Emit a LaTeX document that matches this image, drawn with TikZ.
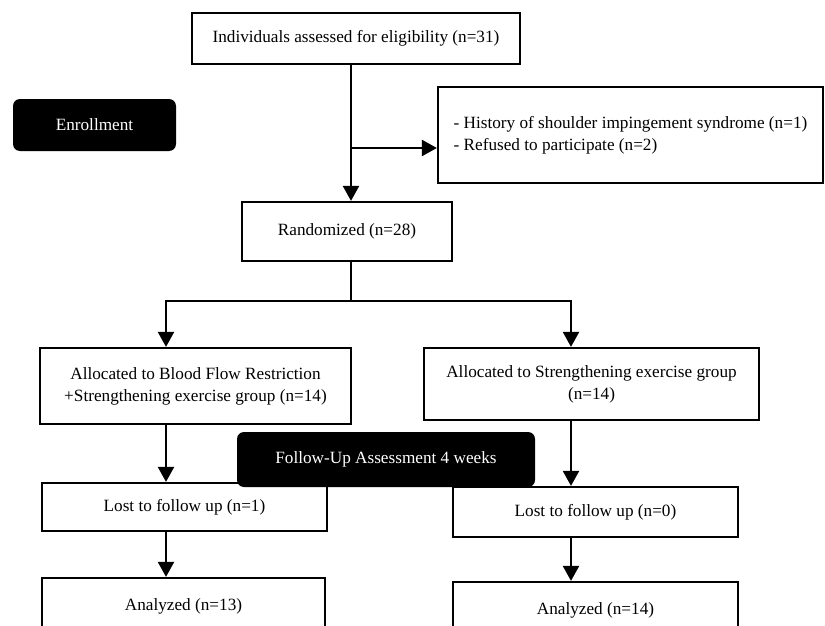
\documentclass[tikz,border=0pt]{standalone}
\usepackage{fontspec}
\setmainfont{Liberation Serif}
\usetikzlibrary{arrows.meta}

\begin{document}
\begin{tikzpicture}[x=1pt,y=-1pt]
\tikzstyle{every node}+=[font=\fontsize{17.2}{22}\selectfont]
\tikzstyle{box}=[draw, line width=2.2pt, fill=white, align=center, inner sep=0pt]
\tikzstyle{phase}=[fill=black, text=white, rounded corners=7pt, inner sep=0pt]
\tikzstyle{arr}=[line width=2.2pt, -{Triangle[width=16pt,length=15pt]}]
\useasboundingbox (0,0) rectangle (825,626);
\clip (0,0) rectangle (825,626);
% enrollment
\node [box, minimum width=328, minimum height=51] (elig) at (356,38.5) {Individuals assessed for eligibility (n=31)};
\node [phase, minimum width=163, minimum height=52] (enrol) at (94.5,125) {Enrollment};
\node [box, align=left, minimum width=385, minimum height=96] (excl) at (630.5,135)
  {- History of shoulder impingement syndrome (n=1)\\- Refused to participate (n=2)};
\node [box, minimum width=210, minimum height=59] (rand) at (347,231.5) {Randomized (n=28)};
\coordinate (split) at (351,148);
\draw [arr] (elig.south -| split) -- (rand.north -| split);
\draw [arr] (split) -- (split -| excl.west);
% allocation
\node [box, minimum width=311, minimum height=76] (bfr) at (195.5,386) {Allocated to Blood Flow Restriction\\+Strengthening exercise group (n=14)};
\node [box, minimum width=335, minimum height=72] (seg) at (591.5,384) {Allocated to Strengthening exercise group\\(n=14)};
\coordinate (fork) at (351,301);
\coordinate (colA) at (166,301);
\coordinate (colB) at (571,301);
\draw [line width=2.2pt] (rand.south -| fork) -- (fork);
\draw [arr] (fork) -| (bfr.north -| colA);
\draw [arr] (fork) -| (seg.north -| colB);
% follow-up
\node [box, minimum width=285, minimum height=48] (lostA) at (184.5,507) {Lost to follow up (n=1)};
\node [box, minimum width=285, minimum height=50] (lostB) at (595.5,512) {Lost to follow up (n=0)};
\node [phase, minimum width=298, minimum height=55] (follow) at (386,459.5) {Follow-Up Assessment 4 weeks};
\draw [arr] (bfr.south -| colA) -- (lostA.north -| colA);
\draw [arr] (seg.south -| colB) -- (lostB.north -| colB);
% analysis
\node [box, minimum width=283, minimum height=56] (anA) at (183.5,606) {Analyzed (n=13)};
\node [box, minimum width=285, minimum height=56] (anB) at (595.5,610) {Analyzed (n=14)};
\draw [arr] (lostA.south -| colA) -- (anA.north -| colA);
\draw [arr] (lostB.south -| colB) -- (anB.north -| colB);
\end{tikzpicture}
\end{document}
